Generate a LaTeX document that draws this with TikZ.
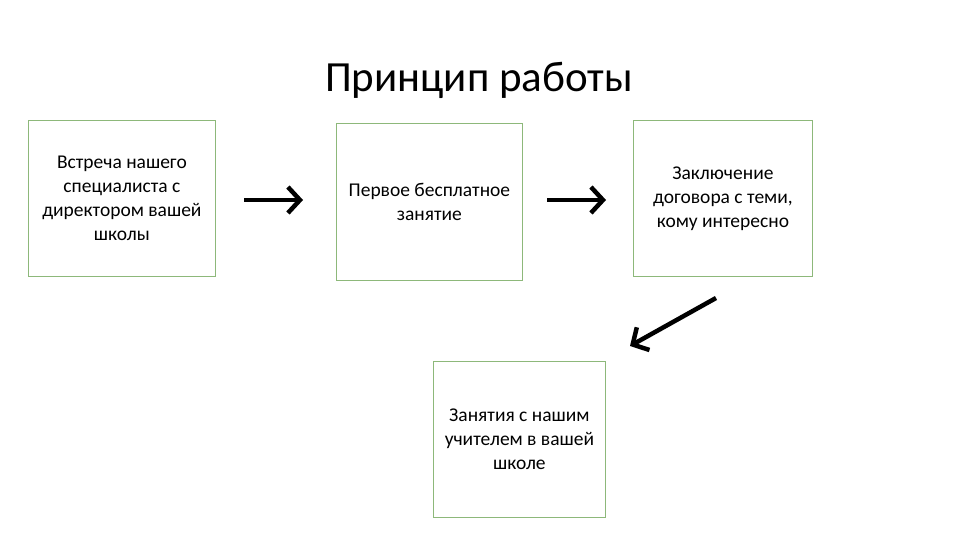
\documentclass[tikz,border=0pt]{standalone}
\usepackage{fontspec}
\setmainfont{Carlito}
\usetikzlibrary{arrows.meta}
\definecolor{boxgreen}{HTML}{8DB87A}
\begin{document}
\begin{tikzpicture}[x=1pt,y=-1pt,
  stepbox/.style={draw=boxgreen,line width=0.8pt,anchor=north west,inner sep=0pt,align=center,font=\fontsize{19.5}{24}\selectfont},
  bigarrow/.style={line width=4.5pt,-{Straight Barb[length=12pt,width=26pt,line width=4.5pt]}}]
\useasboundingbox (0,0) rectangle (960,540);
\node at (479,80) {\fontsize{43}{48}\selectfont Принцип работы};
\node[stepbox,minimum width=187pt,minimum height=156pt] (b1) at (28,120) {Встреча нашего\\специалиста с\\директором вашей\\школы};
\node[stepbox,minimum width=186pt,minimum height=157pt] (b2) at (336,123) {Первое бесплатное\\занятие};
\node[stepbox,minimum width=179pt,minimum height=156pt] (b3) at (633,120) {Заключение\\договора с теми,\\кому интересно};
\node[stepbox,minimum width=172pt,minimum height=156pt] (b4) at (433,361) {Занятия с нашим\\учителем в вашей\\школе};
\coordinate (a1s) at (244,200); \coordinate (a1e) at (303,200);
\coordinate (a2s) at (547,200); \coordinate (a2e) at (606,200);
\coordinate (a3s) at (716,298); \coordinate (a3e) at (630,346);
\draw[bigarrow] (a1s) -- (a1e);
\draw[bigarrow] (a2s) -- (a2e);
\draw[bigarrow] (a3s) -- (a3e);
\end{tikzpicture}
\end{document}
